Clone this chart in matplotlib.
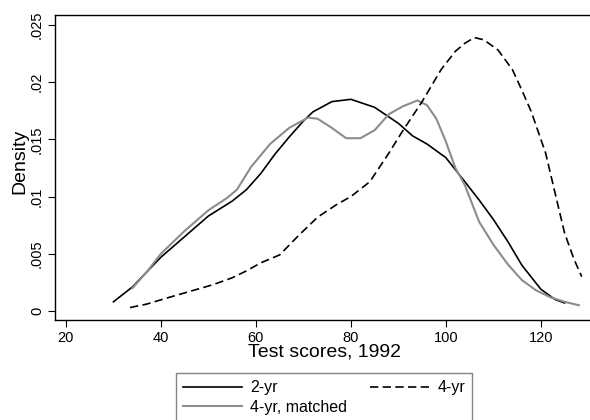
import matplotlib
matplotlib.use("Agg")
import matplotlib.pyplot as plt

plt.rcParams['font.family'] = ['Liberation Sans', 'DejaVu Sans']
plt.rcParams['font.size'] = 10.5

# 2-yr density
x2 = [30, 34, 40, 45, 50, 55, 58, 61, 64, 67, 70, 72, 76, 80, 85, 90, 93, 96,
      100, 104, 107, 110, 113, 116, 120, 123, 125]
y2 = [.0008, .0021, .0047, .0065, .0083, .0096, .0106, .0120, .0137, .0152,
      .0166, .0174, .0183, .0185, .0178, .0164, .0153, .0146, .0134, .0113,
      .0097, .0080, .0061, .0040, .0019, .0010, .0007]

# 4-yr density
x4 = [33.5, 37, 41, 46, 51, 55, 58, 61, 65, 69, 73, 77, 80, 84, 88, 91, 95, 99,
      102, 104, 106, 108, 111, 114, 116, 118, 121, 123, 125, 127, 128.6]
y4 = [.0003, .0006, .0011, .0017, .0023, .0029, .0035, .0042, .0049, .0066,
      .0082, .0093, .0100, .0113, .0138, .0158, .0183, .0211, .0227, .0234,
      .0239, .0237, .0228, .0211, .0193, .0174, .0138, .0103, .0068, .0045, .0030]

# 4-yr, matched density
xm = [34, 37, 40, 45, 50, 54, 56, 59, 63, 67, 71, 73, 76, 79, 82, 85, 88, 91,
      94, 96, 98, 100, 102, 104, 107, 110, 113, 116, 119, 122, 125, 128]
ym = [.0020, .0034, .0050, .0070, .0088, .0099, .0106, .0126, .0146, .0160,
      .0169, .0168, .0160, .0151, .0151, .0158, .0172, .0179, .0184, .0180,
      .0168, .0148, .0125, .0110, .0078, .0058, .0041, .0027, .0018, .0012,
      .0008, .0005]

xticks = [20, 40, 60, 80, 100, 120]
yticks = [0, .005, .01, .015, .02, .025]
ytick_labels = ["0", ".005", ".01", ".015", ".02", ".025"]

fig = plt.figure(figsize=(5.9, 4.2), dpi=100)
ax = fig.add_axes([55 / 590, 1 - 320 / 420, 540 / 590, 305 / 420])

ax.plot(x2, y2, color="black", lw=1.2, label="2-yr")
ax.plot(xm, ym, color="#8c8c8c", lw=1.5, label="4-yr, matched")
ax.plot(x4, y4, color="black", lw=1.2, ls=(0, (5, 2.6)), label="4-yr")

ax.set_xlim(17.7, 131.4)
ax.set_ylim(-0.00079, 0.02587)
ax.set_xticks(xticks)
ax.set_yticks(yticks)
ax.set_yticklabels(ytick_labels, rotation=90, va="center")
ax.tick_params(direction="out", length=5, width=0.8, pad=3)
ax.spines["right"].set_visible(False)
for s in ["left", "bottom", "top"]:
    ax.spines[s].set_linewidth(1.0)

ax.set_xlabel("Test scores, 1992", fontsize=14, labelpad=-1)
ax.set_ylabel("Density", fontsize=14, labelpad=1)
ax.yaxis.set_label_coords(-0.05, 0.52)

fig.legend(loc="upper left", bbox_to_anchor=(176 / 590, 1 - 373 / 420),
           ncol=2, frameon=True, fancybox=False, edgecolor="#666666",
           fontsize=11.5, handlelength=3.7, columnspacing=1.45,
           borderaxespad=0, labelspacing=0.3, borderpad=0.45,
           handletextpad=0.5)

fig.savefig("out.png", dpi=100)
